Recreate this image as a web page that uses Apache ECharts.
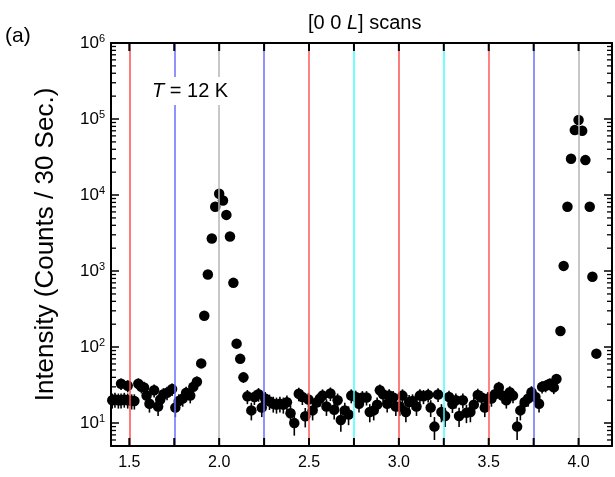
<!DOCTYPE html>
<html>
<head>
<meta charset="utf-8">
<script src="https://cdn.jsdelivr.net/npm/echarts@6/dist/echarts.min.js"></script>
<style>
  html, body { margin: 0; padding: 0; background: #fff; }
  #chart { width: 615px; height: 477px; }
</style>
</head>
<body>
<div id="chart"></div>
<script>
const FONT = '"Liberation Sans", Arial, sans-serif';

// [0 0 L] scan, L (r.l.u.) and counts per 30 s
const scanL = [
  1.405, 1.42, 1.439, 1.454, 1.472, 1.491, 1.513, 1.454, 1.491,
  1.528, 1.55, 1.567, 1.582, 1.596, 1.612, 1.638, 1.66, 1.672, 1.69,
  1.71, 1.738, 1.756, 1.775, 1.797, 1.816, 1.839, 1.856, 1.876, 1.90,
  1.917, 1.937, 1.959, 1.978, 2.0, 2.021, 2.04, 2.06, 2.079, 2.097,
  2.117, 2.135, 2.157, 2.179, 2.196, 2.219, 2.237, 2.256, 2.28, 2.301,
  2.319, 2.338, 2.357, 2.377, 2.397, 2.418, 2.443, 2.463, 2.479, 2.497,
  2.52, 2.542, 2.56, 2.575, 2.597, 2.619, 2.64, 2.659, 2.677, 2.699,
  2.72, 2.735, 2.76, 2.778, 2.797, 2.82, 2.838, 2.86, 2.879, 2.894,
  2.912, 2.935, 2.946, 2.968, 2.983, 3.005, 3.02, 3.039, 3.057, 3.076,
  3.098, 3.117, 3.137, 3.163, 3.177, 3.198, 3.218, 3.237, 3.257, 3.279,
  3.298, 3.317, 3.335, 3.356, 3.376, 3.398, 3.417, 3.439, 3.46, 3.478,
  3.496, 3.515, 3.534, 3.556, 3.576, 3.598, 3.617, 3.635, 3.658, 3.676,
  3.7, 3.719, 3.738, 3.76, 3.78, 3.797, 3.817, 3.84, 3.862, 3.877,
  3.899, 3.917, 3.938, 3.958, 3.979, 4.0, 4.02, 4.038, 4.062, 4.077,
  4.099
];
const scanCounts = [
  20, 20.5, 20, 20, 20.5, 20, 19.5, 33, 31,
  19.5, 33, 30, 29.5, 23, 18, 27, 16.5, 20.5, 24,
  25, 28, 16, 19.5, 21, 25, 23, 30, 35, 61,
  259, 900, 2680, 7000, 10400, 8470, 5480, 2850, 700, 111,
  70, 40, 22.5, 14.7, 22, 24, 16, 21, 19.3, 18,
  17.5, 18, 17.5, 18.8, 13.5, 10, 24.3, 22, 12.3, 20.5,
  14.7, 18.7, 21, 23, 16.5, 24.5, 15, 20, 11, 14.7,
  13, 23, 22, 18, 21.7, 21.7, 14, 14.7, 17.5, 27,
  24, 18, 23, 21.7, 16.5, 16.5, 23, 14, 19, 19.5,
  16.5, 23, 22.5, 23.5, 16, 9, 23.8, 14, 12.4, 22,
  17.8, 20, 12.4, 20, 13.7, 14, 17.5, 23.5, 21.7, 16,
  21, 21, 24, 29.5, 23, 20, 25.5, 23, 9, 14.7,
  19, 21, 25.5, 22, 18, 30, 31, 33, 29.5, 38,
  163, 1170, 7000, 30000, 71500, 97000, 70000, 28800, 7000, 840,
  82
];

// reference lines
const refL = [1.5, 1.75, 2.0, 2.25, 2.5, 2.75, 3.0, 3.25, 3.5, 3.75, 4.0];
const refColors = ['#ff5050', '#6e6eff', '#b4b4b4', '#6e6eff', '#ff5a5a', '#40ffff',
  '#ff5050', '#40ffff', '#ff5a5a', '#6e6eff', '#b4b4b4'];

const xTicks = [1.5, 1.75, 2.0, 2.25, 2.5, 2.75, 3.0, 3.25, 3.5, 3.75, 4.0];
const xLabels = [1.5, 2.0, 2.5, 3.0, 3.5, 4.0];
const X_MIN = 1.398, X_MAX = 4.186;
const Y_MIN = 5, Y_MAX = 1e6;

const minorY = [];
for (let d = 1; d <= 1e5; d *= 10) {
  for (let m = 2; m <= 9; m++) {
    const v = m * d;
    if (v > Y_MIN && v < Y_MAX) minorY.push(v);
  }
}

const points = scanL.map((l, i) => [l, scanCounts[i]]);
const errBars = scanL.map((l, i) => {
  const c = scanCounts[i], e = Math.sqrt(c);
  return [l, c, c - e, c + e];
});

const chart = echarts.init(document.getElementById('chart'));

const baseX = {
  type: 'value',
  min: X_MIN,
  max: X_MAX,
  z: 10,
  splitLine: { show: false },
  axisLine: { lineStyle: { color: '#000', width: 2 } },
  axisTick: { show: false },
};
const baseY = {
  type: 'log',
  logBase: 10,
  min: Y_MIN,
  max: Y_MAX,
  z: 10,
  splitLine: { show: false },
  axisLine: { lineStyle: { color: '#000', width: 2 } },
  axisTick: { inside: true, length: 8, lineStyle: { color: '#000', width: 1.5 } },
};

chart.setOption({
  animation: false,
  textStyle: { fontFamily: FONT },
  title: {
    text: '[0 0 {i|L}] scans',
    left: 303,
    top: 8,
    textStyle: {
      fontFamily: FONT, fontSize: 20, fontWeight: 'normal', color: '#000',
      rich: { i: { fontFamily: FONT, fontSize: 20, fontStyle: 'italic', color: '#000' } },
    },
  },
  grid: { left: 111, right: 3, top: 43, bottom: 31, containLabel: false },
  xAxis: [
    Object.assign({}, baseX, {
      position: 'bottom',
      axisLabel: {
        customValues: xLabels,
        color: '#000', fontSize: 16, margin: 9, fontFamily: FONT,
        formatter: (v) => v.toFixed(1),
      },
    }),
    Object.assign({}, baseX, { position: 'top', axisLabel: { show: false } }),
  ],
  yAxis: [
    Object.assign({}, baseY, {
      position: 'left',
      name: 'Intensity (Counts / 30 Sec.)',
      nameLocation: 'middle',
      nameRotate: 90,
      nameGap: 52,
      nameTextStyle: { fontFamily: FONT, fontSize: 26, color: '#000' },
      axisLabel: {
        color: '#000', margin: 6, fontFamily: FONT,
        formatter: (v) => {
          const e = Math.log10(v), n = Math.round(e);
          if (Math.abs(e - n) > 1e-6) return '';
          return '{b|10}{s|' + n + '}';
        },
        rich: {
          b: { fontSize: 17, fontFamily: FONT, color: '#000' },
          s: { fontSize: 11, fontFamily: FONT, color: '#000', padding: [0, 0, 9, 0] },
        },
      },
    }),
    Object.assign({}, baseY, { position: 'right', axisLabel: { show: false } }),
  ],
  graphic: [
    {
      type: 'text', left: 5, top: 26, z: 10,
      style: { text: '(a)', font: '21px ' + FONT, fill: '#000' },
    },
    {
      type: 'text', left: 149, top: 77, z: 10,
      style: {
        text: '{i|T} = 12 K',
        font: '20px ' + FONT, fill: '#000',
        backgroundColor: '#fff', padding: [4, 3, 4, 3],
        rich: { i: { font: 'italic 20px ' + FONT, fill: '#000' } },
      },
    },
  ],
  series: [
    {
      name: 'ref',
      type: 'line',
      data: [],
      z: 1,
      markLine: {
        silent: true,
        symbol: 'none',
        label: { show: false },
        data: refL.map((l, i) => ({ xAxis: l, lineStyle: { color: refColors[i], width: 1.5, type: 'solid' } })),
      },
    },
    {
      // inward ticks along the bottom and top frame
      name: 'xticks',
      type: 'custom',
      z: 5,
      silent: true,
      data: xTicks.map((v) => [v, Y_MIN]),
      encode: { x: 0, y: 1 },
      renderItem: (params, api) => {
        const v = api.value(0);
        const pb = api.coord([v, Y_MIN]);
        const pt = api.coord([v, Y_MAX]);
        return {
          type: 'group',
          children: [
            { type: 'line', shape: { x1: pb[0], y1: pb[1], x2: pb[0], y2: pb[1] - 8 }, style: { stroke: '#000', lineWidth: 2 } },
            { type: 'line', shape: { x1: pt[0], y1: pt[1], x2: pt[0], y2: pt[1] + 8 }, style: { stroke: '#000', lineWidth: 2 } },
          ],
        };
      },
    },
    {
      name: 'minor',
      type: 'custom',
      z: 4,
      silent: true,
      data: minorY.map((v) => [X_MIN, v]),
      encode: { x: 0, y: 1 },
      renderItem: (params, api) => {
        const v = api.value(1);
        const pl = api.coord([X_MIN, v]);
        const pr = api.coord([X_MAX, v]);
        return {
          type: 'group',
          children: [
            { type: 'line', shape: { x1: pl[0], y1: pl[1], x2: pl[0] + 5, y2: pl[1] }, style: { stroke: '#000', lineWidth: 1.3 } },
            { type: 'line', shape: { x1: pr[0], y1: pr[1], x2: pr[0] - 5, y2: pr[1] }, style: { stroke: '#000', lineWidth: 1.3 } },
          ],
        };
      },
    },
    {
      name: 'err',
      type: 'custom',
      z: 2,
      silent: true,
      data: errBars,
      encode: { x: 0, y: 1 },
      renderItem: (params, api) => {
        const lo = api.coord([api.value(0), api.value(2)]);
        const hi = api.coord([api.value(0), api.value(3)]);
        return {
          type: 'line',
          shape: { x1: lo[0], y1: lo[1], x2: hi[0], y2: hi[1] },
          style: { stroke: '#000', lineWidth: 1.6 },
        };
      },
    },
    {
      name: 'counts',
      type: 'scatter',
      z: 3,
      data: points,
      symbol: 'circle',
      symbolSize: 10.5,
      itemStyle: { color: '#000', opacity: 1 },
    },
  ],
});
</script>
</body>
</html>
